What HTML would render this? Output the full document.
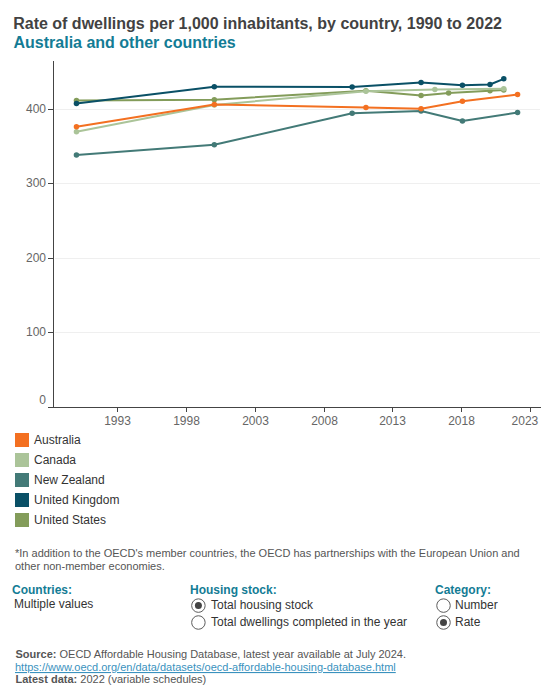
<!DOCTYPE html>
<html><head><meta charset="utf-8"><style>
html,body{margin:0;padding:0;background:#fff;width:560px;height:700px;overflow:hidden}
svg{display:block}
text{font-family:"Liberation Sans",sans-serif}
.ttl{font-size:16px;font-weight:bold;fill:#424242}
.sub{font-size:16px;font-weight:bold;fill:#137C95}
.ax{font-size:12px;fill:#666666}
.lg{font-size:12px;fill:#333}
.fn{font-size:11px;fill:#555}
.hd{font-size:12px;font-weight:bold;fill:#137C95}
.ct{font-size:12px;fill:#333}
.src{font-size:11px;fill:#555}
.srcb{font-weight:bold}
.url{font-size:11px;fill:#3A92BE}
</style></head><body>
<svg width="560" height="700" viewBox="0 0 560 700">
<text x="13.2" y="28.6" class="ttl">Rate of dwellings per 1,000 inhabitants, by country, 1990 to 2022</text>
<text x="13.5" y="47.5" class="sub">Australia and other countries</text>
<line x1="55" y1="332.50" x2="540" y2="332.50" stroke="#efefef" stroke-width="1"/>
<line x1="48" y1="332.50" x2="53.5" y2="332.50" stroke="#444" stroke-width="1"/>
<text x="46" y="335.90" text-anchor="end" class="ax">100</text>
<line x1="55" y1="258.50" x2="540" y2="258.50" stroke="#efefef" stroke-width="1"/>
<line x1="48" y1="258.50" x2="53.5" y2="258.50" stroke="#444" stroke-width="1"/>
<text x="46" y="261.90" text-anchor="end" class="ax">200</text>
<line x1="55" y1="183.50" x2="540" y2="183.50" stroke="#efefef" stroke-width="1"/>
<line x1="48" y1="183.50" x2="53.5" y2="183.50" stroke="#444" stroke-width="1"/>
<text x="46" y="186.90" text-anchor="end" class="ax">300</text>
<line x1="55" y1="109.50" x2="540" y2="109.50" stroke="#efefef" stroke-width="1"/>
<line x1="48" y1="109.50" x2="53.5" y2="109.50" stroke="#444" stroke-width="1"/>
<text x="46" y="112.90" text-anchor="end" class="ax">400</text>
<text x="46" y="403.7" text-anchor="end" class="ax">0</text>
<line x1="53.5" y1="61" x2="53.5" y2="407.5" stroke="#444" stroke-width="1"/>
<line x1="48" y1="407.5" x2="541" y2="407.5" stroke="#444" stroke-width="1"/>
<line x1="117.50" y1="407.5" x2="117.50" y2="412" stroke="#444" stroke-width="1"/>
<text x="117.50" y="424.6" text-anchor="middle" class="ax">1993</text>
<line x1="186.50" y1="407.5" x2="186.50" y2="412" stroke="#444" stroke-width="1"/>
<text x="186.50" y="424.6" text-anchor="middle" class="ax">1998</text>
<line x1="255.50" y1="407.5" x2="255.50" y2="412" stroke="#444" stroke-width="1"/>
<text x="255.50" y="424.6" text-anchor="middle" class="ax">2003</text>
<line x1="324.50" y1="407.5" x2="324.50" y2="412" stroke="#444" stroke-width="1"/>
<text x="324.50" y="424.6" text-anchor="middle" class="ax">2008</text>
<line x1="392.50" y1="407.5" x2="392.50" y2="412" stroke="#444" stroke-width="1"/>
<text x="392.50" y="424.6" text-anchor="middle" class="ax">2013</text>
<line x1="461.50" y1="407.5" x2="461.50" y2="412" stroke="#444" stroke-width="1"/>
<text x="461.50" y="424.6" text-anchor="middle" class="ax">2018</text>
<line x1="530.50" y1="407.5" x2="530.50" y2="412" stroke="#444" stroke-width="1"/>
<text x="538.3" y="424.6" text-anchor="end" class="ax">2023</text>
<polyline points="76.45,100.40 214.30,99.70 365.94,90.70 421.07,95.40 448.64,92.90 490.00,90.80 503.78,89.90" fill="none" stroke="#839C5A" stroke-width="2" stroke-linejoin="round"/>
<circle cx="76.45" cy="100.40" r="2.75" fill="#839C5A"/>
<circle cx="214.30" cy="99.70" r="2.75" fill="#839C5A"/>
<circle cx="365.94" cy="90.70" r="2.75" fill="#839C5A"/>
<circle cx="421.07" cy="95.40" r="2.75" fill="#839C5A"/>
<circle cx="448.64" cy="92.90" r="2.75" fill="#839C5A"/>
<circle cx="490.00" cy="90.80" r="2.75" fill="#839C5A"/>
<circle cx="503.78" cy="89.90" r="2.75" fill="#839C5A"/>
<polyline points="76.45,103.50 214.30,86.70 352.15,87.10 421.07,82.50 462.43,85.15 490.00,84.50 503.78,78.80" fill="none" stroke="#0A5066" stroke-width="2" stroke-linejoin="round"/>
<circle cx="76.45" cy="103.50" r="2.75" fill="#0A5066"/>
<circle cx="214.30" cy="86.70" r="2.75" fill="#0A5066"/>
<circle cx="352.15" cy="87.10" r="2.75" fill="#0A5066"/>
<circle cx="421.07" cy="82.50" r="2.75" fill="#0A5066"/>
<circle cx="462.43" cy="85.15" r="2.75" fill="#0A5066"/>
<circle cx="490.00" cy="84.50" r="2.75" fill="#0A5066"/>
<circle cx="503.78" cy="78.80" r="2.75" fill="#0A5066"/>
<polyline points="76.45,155.10 214.30,144.70 352.15,113.30 421.07,111.00 462.43,121.00 517.57,112.50" fill="none" stroke="#437A77" stroke-width="2" stroke-linejoin="round"/>
<circle cx="76.45" cy="155.10" r="2.75" fill="#437A77"/>
<circle cx="214.30" cy="144.70" r="2.75" fill="#437A77"/>
<circle cx="352.15" cy="113.30" r="2.75" fill="#437A77"/>
<circle cx="421.07" cy="111.00" r="2.75" fill="#437A77"/>
<circle cx="462.43" cy="121.00" r="2.75" fill="#437A77"/>
<circle cx="517.57" cy="112.50" r="2.75" fill="#437A77"/>
<polyline points="76.45,131.80 214.30,104.90 365.94,91.20 434.86,89.50 503.78,88.70" fill="none" stroke="#ABC499" stroke-width="2" stroke-linejoin="round"/>
<circle cx="76.45" cy="131.80" r="2.75" fill="#ABC499"/>
<circle cx="214.30" cy="104.90" r="2.75" fill="#ABC499"/>
<circle cx="365.94" cy="91.20" r="2.75" fill="#ABC499"/>
<circle cx="434.86" cy="89.50" r="2.75" fill="#ABC499"/>
<circle cx="503.78" cy="88.70" r="2.75" fill="#ABC499"/>
<polyline points="76.45,126.80 214.30,104.50 365.94,107.40 421.07,108.65 462.43,101.30 517.57,94.60" fill="none" stroke="#F37021" stroke-width="2" stroke-linejoin="round"/>
<circle cx="76.45" cy="126.80" r="2.75" fill="#F37021"/>
<circle cx="214.30" cy="104.50" r="2.75" fill="#F37021"/>
<circle cx="365.94" cy="107.40" r="2.75" fill="#F37021"/>
<circle cx="421.07" cy="108.65" r="2.75" fill="#F37021"/>
<circle cx="462.43" cy="101.30" r="2.75" fill="#F37021"/>
<circle cx="517.57" cy="94.60" r="2.75" fill="#F37021"/>
<rect x="15" y="433" width="14" height="14" fill="#F37021"/>
<text x="34" y="444.30" class="lg">Australia</text>
<rect x="15" y="453" width="14" height="14" fill="#ABC499"/>
<text x="34" y="464.30" class="lg">Canada</text>
<rect x="15" y="473" width="14" height="14" fill="#437A77"/>
<text x="34" y="484.30" class="lg">New Zealand</text>
<rect x="15" y="493" width="14" height="14" fill="#0A5066"/>
<text x="34" y="504.30" class="lg">United Kingdom</text>
<rect x="15" y="513" width="14" height="14" fill="#839C5A"/>
<text x="34" y="524.30" class="lg">United States</text>
<text x="15" y="556.7" class="fn">*In addition to the OECD's member countries, the OECD has partnerships with the European Union and</text>
<text x="15" y="569.5" class="fn">other non-member economies.</text>
<text x="12" y="594" class="hd">Countries:</text>
<text x="14" y="608" class="ct">Multiple values</text>
<text x="190" y="594" class="hd">Housing stock:</text>
<circle cx="198.4" cy="605.6" r="6.75" fill="#fff" stroke="#5c5c5c" stroke-width="1"/>
<circle cx="198.4" cy="605.6" r="3.5" fill="#444"/>
<text x="211" y="608.7" class="ct">Total housing stock</text>
<circle cx="198.4" cy="622.5" r="6.75" fill="#fff" stroke="#5c5c5c" stroke-width="1"/>
<text x="211" y="625.5" class="ct">Total dwellings completed in the year</text>
<text x="435" y="594" class="hd">Category:</text>
<circle cx="443.5" cy="605.6" r="6.75" fill="#fff" stroke="#5c5c5c" stroke-width="1"/>
<text x="455" y="608.7" class="ct">Number</text>
<circle cx="443.5" cy="622.5" r="6.75" fill="#fff" stroke="#5c5c5c" stroke-width="1"/>
<circle cx="443.5" cy="622.5" r="3.5" fill="#444"/>
<text x="455" y="625.5" class="ct">Rate</text>
<text x="15.5" y="658" class="src"><tspan class="srcb">Source:</tspan> OECD Affordable Housing Database, latest year available at July 2024.</text>
<text x="15" y="671" class="url" text-decoration="underline">https://www.oecd.org/en/data/datasets/oecd-affordable-housing-database.html</text>
<text x="15.5" y="682.5" class="src"><tspan class="srcb">Latest data:</tspan> 2022 (variable schedules)</text>
</svg>
</body></html>
